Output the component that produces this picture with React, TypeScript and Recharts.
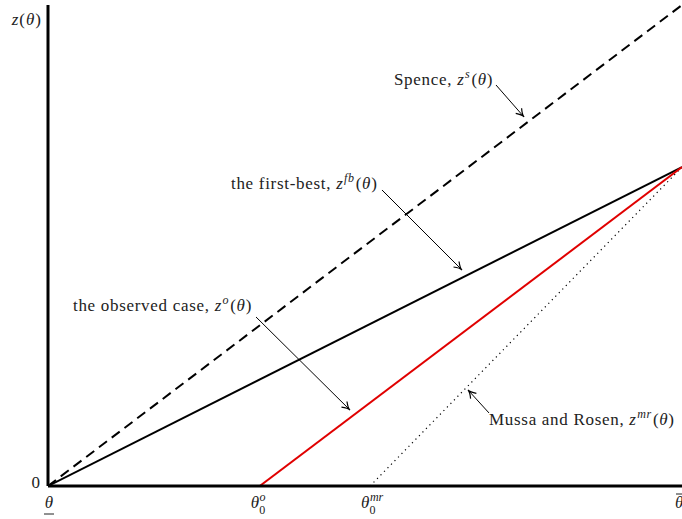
import React from "react";
import { LineChart, Line, XAxis, YAxis, ReferenceDot, ReferenceLine } from "recharts";

// Critical types (x positions on the theta axis, 0 = lower bound, 1 = upper bound)
const thetaLow = 0;
const thetaO = 0.334;
const thetaMR = 0.508;
const thetaHigh = 1;

// Schedules z(theta)
const spence = [
  { x: 0, y: 0 },
  { x: 1, y: 1 },
];
const firstBest = [
  { x: 0, y: 0 },
  { x: 1, y: 0.663 },
];
const observed = [
  { x: 0.334, y: 0 },
  { x: 1, y: 0.663 },
];
const mussaRosen = [
  { x: 0.508, y: 0 },
  { x: 1, y: 0.663 },
];

const xTicks = [thetaLow, thetaO, thetaMR, thetaHigh];
const yTicks = [0, 1];

// Annotations: label anchor (data coords) and arrow (from -> to, data coords)
const labels = [
  { key: "s", pre: "Spence, ", sup: "s", x: 0.5457, y: 0.833 },
  { key: "fb", pre: "the first-best, ", sup: "fb", x: 0.2886, y: 0.617 },
  { key: "o", pre: "the observed case, ", sup: "o", x: 0.0394, y: 0.364 },
  { key: "mr", pre: "Mussa and Rosen, ", sup: "mr", x: 0.6956, y: 0.127 },
];
const arrows = [
  { key: "s", x1: 0.7066, y1: 0.8337, x2: 0.7508, y2: 0.7672 },
  { key: "fb", x1: 0.5268, y1: 0.6154, x2: 0.653, y2: 0.4491 },
  { key: "o", x1: 0.3281, y1: 0.3514, x2: 0.4763, y2: 0.158 },
  { key: "mr", x1: 0.6956, y1: 0.1518, x2: 0.6625, y2: 0.1996 },
];

const FONT = "'Liberation Serif', 'DejaVu Serif', serif";
const FS = 17;
const LS = 0.7;

const MathLabel = ({ pre, sup }: { pre: string; sup: string }) => (
  <>
    <tspan>{pre}</tspan>
    <tspan fontStyle="italic">z</tspan>
    <tspan fontStyle="italic" fontSize={12} dy={-7} dx={0.5}>{sup}</tspan>
    <tspan dy={7} dx={1}>(</tspan>
    <tspan fontStyle="italic">θ</tspan>
    <tspan>)</tspan>
  </>
);

const ArrowShape = (props: any) => {
  const { x1, y1, x2, y2 } = props;
  const ang = Math.atan2(y2 - y1, x2 - x1);
  const L = 9;
  const a = 0.45;
  const ax = x2 - L * Math.cos(ang - a);
  const ay = y2 - L * Math.sin(ang - a);
  const bx = x2 - L * Math.cos(ang + a);
  const by = y2 - L * Math.sin(ang + a);
  const qx = x2 - 3 * Math.cos(ang);
  const qy = y2 - 3 * Math.sin(ang);
  return (
    <g>
      <line x1={x1} y1={y1} x2={x2} y2={y2} stroke="#000" strokeWidth={1} />
      <path d={`M${ax},${ay} Q${qx},${qy} ${x2},${y2} Q${qx},${qy} ${bx},${by}`} fill="none" stroke="#000" strokeWidth={1.2} />
    </g>
  );
};

const XTick = (props: any) => {
  const { x, y, payload } = props;
  const v = payload.value;
  const ty = y + 14;
  const common = { fontFamily: FONT, fontSize: FS, fill: "#222" } as any;
  if (v === thetaLow) {
    return (
      <g>
        <text x={x + 1} y={ty} textAnchor="middle" fontStyle="italic" {...common}>θ</text>
        <line x1={x - 4} x2={x + 6} y1={ty + 6} y2={ty + 6} stroke="#222" strokeWidth={1} />
      </g>
    );
  }
  if (v === thetaHigh) {
    return (
      <g>
        <text x={x - 3} y={ty} textAnchor="start" fontStyle="italic" {...common}>θ</text>
        <line x1={x - 2} x2={x + 8} y1={ty - 14} y2={ty - 14} stroke="#222" strokeWidth={1} />
      </g>
    );
  }
  const sup = v === thetaO ? "o" : "mr";
  return (
    <text x={x - 9} y={ty} textAnchor="start" {...common}>
      <tspan fontStyle="italic">θ</tspan>
      <tspan fontStyle="italic" fontSize={12} dy={-7} dx={0.5}>{sup}</tspan>
      <tspan fontSize={12} x={x - 0.5} dy={13}>0</tspan>
    </text>
  );
};

const YTick = (props: any) => {
  const { x, y, payload } = props;
  const common = { fontFamily: FONT, fontSize: FS, fill: "#222" } as any;
  if (payload.value === 0) {
    return <text x={x} y={y + 2} textAnchor="end" {...common}>0</text>;
  }
  return (
    <text x={x + 2} y={y + 16} textAnchor="end" letterSpacing={1} {...common}>
      <tspan fontStyle="italic">z</tspan>
      <tspan>(</tspan>
      <tspan fontStyle="italic">θ</tspan>
      <tspan>)</tspan>
    </text>
  );
};

export default function App() {
  return (
    <div style={{ position: "absolute", left: 0, top: 0, background: "#fff" }}>
      <LineChart width={682} height={519} margin={{ top: 5, right: 0, left: 0, bottom: 0 }}>
        <XAxis
          type="number"
          dataKey="x"
          domain={[0, 1]}
          ticks={xTicks}
          tick={<XTick />}
          tickLine={false}
          axisLine={{ stroke: "#000", strokeWidth: 3 }}
          height={33}
          allowDataOverflow
        />
        <YAxis
          type="number"
          dataKey="y"
          domain={[0, 1]}
          ticks={yTicks}
          tick={<YTick />}
          tickLine={false}
          axisLine={{ stroke: "#000", strokeWidth: 3 }}
          width={48}
          allowDataOverflow
        />
        <Line data={spence} dataKey="y" stroke="#000" strokeWidth={2} strokeDasharray="10 6" dot={false} isAnimationActive={false} />
        <Line data={mussaRosen} dataKey="y" stroke="#000" strokeWidth={1.2} strokeDasharray="1.2 3.8" dot={false} isAnimationActive={false} />
        <Line data={firstBest} dataKey="y" stroke="#000" strokeWidth={2} dot={false} isAnimationActive={false} />
        <Line data={observed} dataKey="y" stroke="#e00000" strokeWidth={2} dot={false} isAnimationActive={false} />
        {arrows.map((a) => (
          <ReferenceLine
            key={a.key}
            segment={[{ x: a.x1, y: a.y1 }, { x: a.x2, y: a.y2 }]}
            shape={<ArrowShape />}
            ifOverflow="visible"
          />
        ))}
        {labels.map((l) => (
          <ReferenceDot
            key={l.key}
            x={l.x}
            y={l.y}
            r={0}
            ifOverflow="visible"
            shape={(p: any) => (
              <text x={p.cx} y={p.cy} fontFamily={FONT} fontSize={FS} letterSpacing={LS} fill="#222">
                <MathLabel pre={l.pre} sup={l.sup} />
              </text>
            )}
          />
        ))}
      </LineChart>
    </div>
  );
}
